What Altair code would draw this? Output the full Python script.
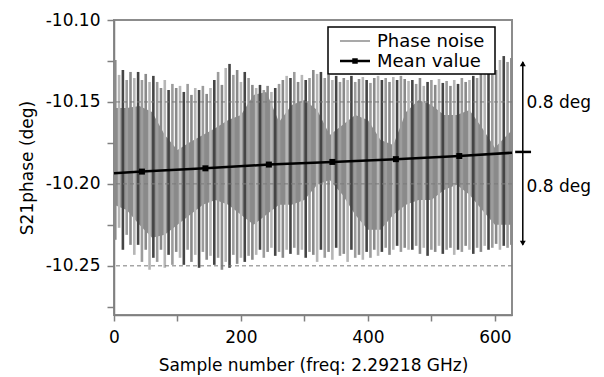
import altair as alt
import pandas as pd

# ---------------- data ----------------
x_ticks = [0, 100, 200, 300, 400, 500, 600]
y_ticks = [-10.275, -10.25, -10.225, -10.20, -10.175, -10.15, -10.125, -10.10]
grid_levels = [-10.15, -10.20, -10.25]

# solid part of the phase-noise trace (inner envelope)
band_x = [0, 20, 40, 60, 80, 100, 120, 140, 160, 180, 200, 220, 240, 260, 280, 300,
          320, 340, 360, 380, 400, 420, 440, 460, 480, 500, 520, 540, 560, 580, 600, 627]
band_top = [-10.1537, -10.1537, -10.1524, -10.1561, -10.1701, -10.1793, -10.1744, -10.1701,
            -10.1659, -10.1610, -10.1579, -10.1457, -10.1439, -10.1622, -10.1518, -10.1488,
            -10.1549, -10.1701, -10.1640, -10.1579, -10.1610, -10.1732, -10.1762, -10.1561,
            -10.1488, -10.1518, -10.1579, -10.1579, -10.1549, -10.1659, -10.1780, -10.1671]
band_bot = [-10.2128, -10.2159, -10.2250, -10.2329, -10.2311, -10.2250, -10.2189, -10.2128,
            -10.2098, -10.2128, -10.2189, -10.2250, -10.2189, -10.2128, -10.2128, -10.2098,
            -10.2006, -10.1976, -10.2067, -10.2189, -10.2280, -10.2280, -10.2189, -10.2128,
            -10.2098, -10.2098, -10.2037, -10.2006, -10.2067, -10.2159, -10.2250, -10.2250]

# individual noise swings (sample number, max, min)
spike_x = list(range(2, 627, 6))
spike_top = [
    -10.1244, -10.1335, -10.1305, -10.1366, -10.1317,
    -10.1354, -10.1317, -10.1366, -10.1329, -10.1378, -10.1341,
    -10.1378, -10.1415, -10.1366, -10.1427, -10.1390, -10.1415,
    -10.1402, -10.1439, -10.1390, -10.1457, -10.1415, -10.1427, -10.1402, -10.1451, -10.1415,
    -10.1366, -10.1317, -10.1396, -10.1293, -10.1268, -10.1335, -10.1305, -10.1378, -10.1317, -10.1354, -10.1396,
    -10.1415, -10.1396, -10.1427, -10.1402, -10.1439, -10.1415, -10.1390, -10.1366, -10.1341, -10.1354, -10.1317,
    -10.1378, -10.1335, -10.1366, -10.1354,
    -10.1305, -10.1329, -10.1317, -10.1354, -10.1335, -10.1366, -10.1341, -10.1378, -10.1354, -10.1366, -10.1341,
    -10.1378, -10.1360, -10.1348, -10.1366, -10.1384, -10.1354, -10.1341, -10.1366, -10.1354, -10.1378, -10.1348,
    -10.1366, -10.1341, -10.1360, -10.1372,
    -10.1366, -10.1390, -10.1354, -10.1402, -10.1378, -10.1366, -10.1396, -10.1360, -10.1384, -10.1372, -10.1402,
    -10.1366, -10.1390, -10.1354, -10.1378, -10.1366, -10.1341, -10.1354,
    -10.1317, -10.1293, -10.1329, -10.1268, -10.1305, -10.1244, -10.1220, -10.1256, -10.1232,
]
spike_bot = [
    -10.2341, -10.2268, -10.2402, -10.2311, -10.2372,
    -10.2433, -10.2372, -10.2476, -10.2402, -10.2524, -10.2451,
    -10.2476, -10.2402, -10.2512, -10.2433, -10.2494, -10.2415,
    -10.2451, -10.2494, -10.2402, -10.2476, -10.2433, -10.2512, -10.2415, -10.2463, -10.2439,
    -10.2494, -10.2451, -10.2524, -10.2476, -10.2512, -10.2433, -10.2488, -10.2451, -10.2476, -10.2439, -10.2463,
    -10.2433, -10.2402, -10.2451, -10.2415, -10.2390, -10.2439, -10.2415, -10.2451, -10.2402, -10.2427, -10.2390,
    -10.2433, -10.2402, -10.2451, -10.2415,
    -10.2433, -10.2476, -10.2402, -10.2451, -10.2415, -10.2463, -10.2390, -10.2439, -10.2427, -10.2476, -10.2402,
    -10.2451, -10.2433, -10.2463, -10.2415, -10.2451, -10.2402, -10.2439, -10.2415, -10.2390, -10.2433, -10.2402,
    -10.2378, -10.2415, -10.2390, -10.2402,
    -10.2402, -10.2378, -10.2427, -10.2390, -10.2439, -10.2402, -10.2415, -10.2378, -10.2427, -10.2402, -10.2390,
    -10.2433, -10.2402, -10.2415, -10.2378, -10.2402, -10.2427, -10.2390, -10.2415, -10.2378, -10.2402, -10.2390,
    -10.2366, -10.2402, -10.2378, -10.2390, -10.2372,
]

# mean value trend
mean_x = [0, 44, 144, 244, 344, 444, 544, 627]
mean_y = [-10.1935, -10.1925, -10.1905, -10.1882, -10.1866, -10.1849, -10.1830, -10.1810]
marker_x = [44, 144, 244, 344, 444, 544]
marker_y = [-10.1925, -10.1905, -10.1882, -10.1866, -10.1849, -10.1830]

# "0.8 deg" bracket on the right
bracket_x = 644
bracket_top = -10.1256
bracket_mid = -10.1805
bracket_bot = -10.2372
bracket_label = "0.8 deg"
bracket_label_y = [-10.1506, -10.2018]

legend_labels = ["Phase noise", "Mean value"]

FONT = "DejaVu Sans"
GRAY = "#8c8c8c"

# ---------------- scales / axes ----------------
x_scale = alt.Scale(domain=[0, 627], nice=False, zero=False)
y_scale = alt.Scale(domain=[-10.28, -10.10], nice=False, zero=False)

x_axis = alt.Axis(
    values=x_ticks, labelExpr="datum.value % 200 === 0 ? datum.label : ''", format="d",
    title="Sample number (freq: 2.29218 GHz)", grid=False, tickSize=6, labelPadding=8,
    titlePadding=12, labelFlush=False, labelOverlap=False,
    domainColor="#808080", tickColor="#808080", domainWidth=1.5, tickWidth=1.5,
    labelFont=FONT, labelFontSize=17, labelColor="black",
    titleFont=FONT, titleFontSize=17, titleFontWeight="normal", titleColor="black",
)
y_axis = alt.Axis(
    values=y_ticks,
    labelExpr="round(datum.value*1000) % 50 === 0 ? '-' + format(abs(datum.value), '.2f') : ''",
    title="S21phase (deg)", grid=False, tickSize=7, labelPadding=7, titlePadding=9,
    labelFlush=False, labelOverlap=False,
    domainColor="#808080", tickColor="#808080", domainWidth=1.5, tickWidth=1.5,
    labelFont=FONT, labelFontSize=17, labelColor="black",
    titleFont=FONT, titleFontSize=17, titleFontWeight="normal", titleColor="black",
)

X = alt.X("sample:Q", scale=x_scale, axis=x_axis)
Y = alt.Y("phase:Q", scale=y_scale, axis=y_axis)

# ---------------- layers ----------------
band_df = pd.DataFrame({"sample": band_x, "phase": band_top, "phase2": band_bot})
band = alt.Chart(band_df).mark_area(color=GRAY, opacity=1).encode(
    x=X, y=Y, y2=alt.Y2("phase2:Q"))

spike_df = pd.DataFrame({"sample": spike_x, "phase": spike_top, "phase2": spike_bot})
spike_df["tone"] = [i % 4 for i in range(len(spike_df))]
spikes = alt.Chart(spike_df).mark_rule(strokeWidth=2.6).encode(
    x=X, y=Y, y2=alt.Y2("phase2:Q"),
    color=alt.Color("tone:O", scale=alt.Scale(domain=[0, 1, 2, 3],
                    range=["#8a8a8a", "#b6b6b6", "#454545", "#9c9c9c"]), legend=None))

grid_df = pd.DataFrame({"phase": grid_levels})
grid = alt.Chart(grid_df).mark_rule(color="#7a7a7a", strokeWidth=1, strokeDash=[4, 3]).encode(y=Y)

mean_df = pd.DataFrame({"sample": mean_x, "phase": mean_y})
mean_line = alt.Chart(mean_df).mark_line(color="black", strokeWidth=2.5).encode(x=X, y=Y)
marker_df = pd.DataFrame({"sample": marker_x, "phase": marker_y})
markers = alt.Chart(marker_df).mark_square(color="black", size=36, opacity=1).encode(x=X, y=Y)

one = pd.DataFrame({"k": [0]})
leg_box = alt.Chart(one).mark_rect(fill="white", stroke="black", strokeWidth=1.5).encode(
    x=alt.value(214), x2=alt.value(381), y=alt.value(7), y2=alt.value(54))
leg_l1 = alt.Chart(one).mark_rule(color=GRAY, strokeWidth=1.5).encode(
    x=alt.value(226), x2=alt.value(256), y=alt.value(21))
leg_l2 = alt.Chart(one).mark_rule(color="black", strokeWidth=2.5).encode(
    x=alt.value(226), x2=alt.value(256), y=alt.value(41))
leg_sq = alt.Chart(one).mark_square(color="black", size=30, opacity=1).encode(
    x=alt.value(241), y=alt.value(41))
leg_t1 = alt.Chart(one).mark_text(text=legend_labels[0], font=FONT, fontSize=18, align="left",
                                  baseline="alphabetic", color="black").encode(
    x=alt.value(263), y=alt.value(27))
leg_t2 = alt.Chart(one).mark_text(text=legend_labels[1], font=FONT, fontSize=18, align="left",
                                  baseline="alphabetic", color="black").encode(
    x=alt.value(263), y=alt.value(47))

br_df = pd.DataFrame({"sample": [bracket_x], "phase": [bracket_top], "phase2": [bracket_bot]})
br_line = alt.Chart(br_df).mark_rule(color="black", strokeWidth=1.5, clip=False).encode(
    x=X, y=Y, y2=alt.Y2("phase2:Q"))
tick_df = pd.DataFrame({"sample": [bracket_x - 12], "sample2": [bracket_x + 13], "phase": [bracket_mid]})
br_tick = alt.Chart(tick_df).mark_rule(color="black", strokeWidth=2.5, clip=False).encode(
    x=X, x2=alt.X2("sample2:Q"), y=Y)
up_df = pd.DataFrame({"sample": [bracket_x], "phase": [bracket_top - 0.0010]})
br_up = alt.Chart(up_df).mark_point(shape="triangle-up", filled=True, color="black", size=35,
                                    opacity=1, clip=False).encode(x=X, y=Y)
dn_df = pd.DataFrame({"sample": [bracket_x], "phase": [bracket_bot + 0.0010]})
br_dn = alt.Chart(dn_df).mark_point(shape="triangle-down", filled=True, color="black", size=35,
                                    opacity=1, clip=False).encode(x=X, y=Y)
lab_df = pd.DataFrame({"sample": [bracket_x + 6] * 2, "phase": bracket_label_y,
                       "label": [bracket_label] * 2})
br_text = alt.Chart(lab_df).mark_text(font=FONT, fontSize=17, align="left", baseline="middle",
                                      color="black", clip=False).encode(x=X, y=Y, text="label:N")

chart = alt.layer(
    band, spikes, grid, mean_line, markers,
    leg_box, leg_l1, leg_l2, leg_sq, leg_t1, leg_t2,
    br_line, br_tick, br_up, br_dn, br_text,
).properties(
    width=398, height=295,
    autosize=alt.AutoSizeParams(type="none"),
    padding={"left": 106, "top": 12, "right": 84, "bottom": 62},
).configure(font=FONT).configure_view(stroke="#8c8c8c", strokeWidth=2)

chart.save("out.html", embed_options={"renderer": "svg", "actions": False})
